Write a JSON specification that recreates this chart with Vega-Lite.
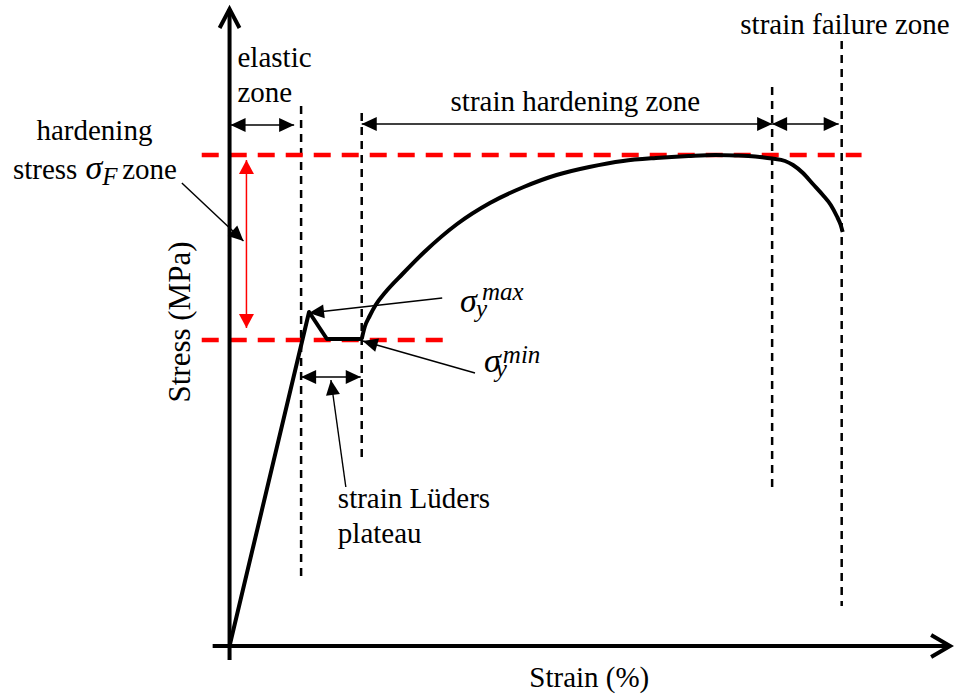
{
  "$schema": "https://vega.github.io/schema/vega-lite/v6.json",
  "width": 958,
  "height": 696,
  "padding": 0,
  "autosize": {"type": "fit", "contains": "padding"},
  "background": "white",
  "config": {"view": {"stroke": null}},
  "datasets": {
    "axes": [
      {"id": "y", "o": 0, "x": 0, "y": -14},
      {"id": "y", "o": 1, "x": 0, "y": 637},
      {"id": "x", "o": 0, "x": -17, "y": 0},
      {"id": "x", "o": 1, "x": 725, "y": 0},
      {"id": "ya", "o": 0, "x": -10, "y": 618},
      {"id": "ya", "o": 1, "x": 0, "y": 637},
      {"id": "ya", "o": 2, "x": 10, "y": 618},
      {"id": "xa", "o": 0, "x": 706, "y": 11},
      {"id": "xa", "o": 1, "x": 725, "y": 0},
      {"id": "xa", "o": 2, "x": 706, "y": -11}
    ],
    "vdash": [
      {"x": 72, "y": 540, "y2": 64},
      {"x": 133, "y": 533, "y2": 188},
      {"x": 546, "y": 559, "y2": 158},
      {"x": 616, "y": 605, "y2": 40}
    ],
    "rdash": [
      {"x": -28, "x2": 636, "y": 491},
      {"x": -28, "x2": 217, "y": 306}
    ],
    "curve1": [
      {"o": 0, "x": 0, "y": 0},
      {"o": 1, "x": 80, "y": 334},
      {"o": 2, "x": 98, "y": 307},
      {"o": 3, "x": 133, "y": 307}
    ],
    "curve2": [
      {"x": 133, "y": 307},
      {"x": 136, "y": 319},
      {"x": 141, "y": 330},
      {"x": 147, "y": 341},
      {"x": 157, "y": 354},
      {"x": 174, "y": 372},
      {"x": 196, "y": 394},
      {"x": 229, "y": 422},
      {"x": 262, "y": 443},
      {"x": 296, "y": 459},
      {"x": 329, "y": 471},
      {"x": 362, "y": 479},
      {"x": 396, "y": 485},
      {"x": 429, "y": 488},
      {"x": 462, "y": 490},
      {"x": 489, "y": 491},
      {"x": 509, "y": 490.5},
      {"x": 529, "y": 489.5},
      {"x": 546, "y": 487.5},
      {"x": 559, "y": 485},
      {"x": 567, "y": 481},
      {"x": 577, "y": 473},
      {"x": 587, "y": 462},
      {"x": 597, "y": 451},
      {"x": 605, "y": 441},
      {"x": 611, "y": 430},
      {"x": 615, "y": 421},
      {"x": 617, "y": 414}
    ],
    "thin": [
      {"x": 1, "x2": 65, "y": 521, "y2": 521},
      {"x": 133, "x2": 546, "y": 522, "y2": 522},
      {"x": 546, "x2": 613, "y": 522, "y2": 522},
      {"x": 72, "x2": 132, "y": 269, "y2": 269},
      {"x": -48, "x2": 14, "y": 463, "y2": 405},
      {"x": 214, "x2": 80, "y": 348, "y2": 333},
      {"x": 247, "x2": 134, "y": 273, "y2": 305},
      {"x": 117, "x2": 102, "y": 159, "y2": 266}
    ],
    "redthin": [
      {"x": 17, "x2": 17, "y": 486, "y2": 318}
    ],
    "heads": [
      {"x": 1, "y": 521, "d": "L"},
      {"x": 65, "y": 521, "d": "R"},
      {"x": 133, "y": 522, "d": "L"},
      {"x": 546, "y": 522, "d": "R"},
      {"x": 546, "y": 522, "d": "L"},
      {"x": 613, "y": 522, "d": "R"},
      {"x": 72, "y": 269, "d": "L"},
      {"x": 132, "y": 269, "d": "R"},
      {"x": 14, "y": 405, "d": "a1"},
      {"x": 80, "y": 333, "d": "a2"},
      {"x": 134, "y": 305, "d": "a3"},
      {"x": 102, "y": 266, "d": "a4"}
    ],
    "redheads": [
      {"x": 17, "y": 486, "d": "RU"},
      {"x": 17, "y": 318, "d": "RD"}
    ],
    "textL": [
      {"x": 8, "y": 579, "t": "elastic"},
      {"x": 8, "y": 544, "t": "zone"},
      {"x": 514, "y": 612, "t": "strain failure zone"},
      {"x": 109, "y": 138, "t": "strain Lüders"},
      {"x": 109, "y": 103, "t": "plateau"},
      {"x": -218, "y": 467, "t": "stress"},
      {"x": -108, "y": 467, "t": "zone"}
    ],
    "textC": [
      {"x": -136, "y": 506, "t": "hardening"},
      {"x": 348, "y": 535, "t": "strain hardening zone"},
      {"x": 362, "y": -41, "t": "Strain (%)"}
    ],
    "ylab": [
      {"x": -40, "y": 324, "t": "Stress (MPa)"}
    ],
    "sig": [
      {"x": -145, "y": 467, "t": "σ"},
      {"x": 232, "y": 334, "t": "σ"},
      {"x": 256, "y": 274, "t": "σ"}
    ],
    "subsup": [
      {"x": -128, "y": 461, "t": "F"},
      {"x": 248, "y": 329, "t": "y"},
      {"x": 254, "y": 346, "t": "max"},
      {"x": 268, "y": 269, "t": "y"},
      {"x": 275, "y": 283, "t": "min"}
    ]
  },
  "encoding": {
    "x": {"field": "x", "type": "quantitative", "scale": {"domain": [-231, 727], "nice": false, "zero": false}, "axis": null},
    "y": {"field": "y", "type": "quantitative", "scale": {"domain": [-50, 646], "nice": false, "zero": false}, "axis": null}
  },
  "layer": [
    {
      "data": {"name": "vdash"},
      "mark": {"type": "rule", "color": "black", "strokeWidth": 2.5, "strokeDash": [8, 6]},
      "encoding": {"y2": {"field": "y2"}}
    },
    {
      "data": {"name": "rdash"},
      "mark": {"type": "rule", "color": "#ff0000", "strokeWidth": 4.5, "strokeDash": [17, 11]},
      "encoding": {"x2": {"field": "x2"}}
    },
    {
      "data": {"name": "axes"},
      "mark": {"type": "line", "color": "black", "strokeWidth": 4, "strokeJoin": "miter", "strokeCap": "butt"},
      "encoding": {"detail": {"field": "id"}, "order": {"field": "o"}}
    },
    {
      "data": {"name": "curve1"},
      "mark": {"type": "line", "color": "black", "strokeWidth": 4, "strokeJoin": "round"},
      "encoding": {"order": {"field": "o"}}
    },
    {
      "data": {"name": "curve2"},
      "mark": {"type": "line", "color": "black", "strokeWidth": 4, "interpolate": "monotone"},
      "encoding": {}
    },
    {
      "data": {"name": "thin"},
      "mark": {"type": "rule", "color": "black", "strokeWidth": 1.4},
      "encoding": {"x2": {"field": "x2"}, "y2": {"field": "y2"}}
    },
    {
      "data": {"name": "redthin"},
      "mark": {"type": "rule", "color": "#ff0000", "strokeWidth": 1.5},
      "encoding": {"x2": {"field": "x2"}, "y2": {"field": "y2"}}
    },
    {
      "data": {"name": "heads"},
      "mark": {"type": "point", "filled": true, "size": 4, "opacity": 1, "color": "black", "strokeWidth": 0},
      "encoding": {
        "shape": {
          "field": "d",
          "type": "nominal",
          "legend": null,
          "scale": {
            "domain": ["L", "R", "RU", "RD", "a1", "a2", "a3", "a4"],
            "range": [
              "M0,0L15,-7L15,7Z",
              "M0,0L-15,-7L-15,7Z",
              "M0,0L-7.5,14L7.5,14Z",
              "M0,0L-7.5,-14L7.5,-14Z",
              "M0,0L-15.7,-5.1L-6.2,-15.4Z",
              "M0,0L14.1,-8.6L15.7,5.3Z",
              "M0,0L16.3,-2.6L12.5,10.8Z",
              "M0,0L9,13.9L-4.9,15.8Z"
            ]
          }
        }
      }
    },
    {
      "data": {"name": "redheads"},
      "mark": {"type": "point", "filled": true, "size": 4, "opacity": 1, "color": "#ff0000", "strokeWidth": 0},
      "encoding": {
        "shape": {
          "field": "d",
          "type": "nominal",
          "legend": null,
          "scale": {
            "domain": ["L", "R", "RU", "RD", "a1", "a2", "a3", "a4"],
            "range": [
              "M0,0L15,-7L15,7Z",
              "M0,0L-15,-7L-15,7Z",
              "M0,0L-7.5,14L7.5,14Z",
              "M0,0L-7.5,-14L7.5,-14Z",
              "M0,0L-15.7,-5.1L-6.2,-15.4Z",
              "M0,0L14.1,-8.6L15.7,5.3Z",
              "M0,0L16.3,-2.6L12.5,10.8Z",
              "M0,0L9,13.9L-4.9,15.8Z"
            ]
          }
        }
      }
    },
    {
      "data": {"name": "textL"},
      "mark": {"type": "text", "font": "Liberation Serif", "fontSize": 29, "align": "left", "baseline": "alphabetic", "color": "black"},
      "encoding": {"text": {"field": "t"}}
    },
    {
      "data": {"name": "textC"},
      "mark": {"type": "text", "font": "Liberation Serif", "fontSize": 29, "align": "center", "baseline": "alphabetic", "color": "black"},
      "encoding": {"text": {"field": "t"}}
    },
    {
      "data": {"name": "ylab"},
      "mark": {"type": "text", "font": "Liberation Serif", "fontSize": 31, "align": "center", "baseline": "alphabetic", "angle": 270, "color": "black"},
      "encoding": {"text": {"field": "t"}}
    },
    {
      "data": {"name": "sig"},
      "mark": {"type": "text", "font": "Liberation Serif", "fontStyle": "italic", "fontSize": 34, "align": "left", "baseline": "alphabetic", "color": "black"},
      "encoding": {"text": {"field": "t"}}
    },
    {
      "data": {"name": "subsup"},
      "mark": {"type": "text", "font": "Liberation Serif", "fontStyle": "italic", "fontSize": 25, "align": "left", "baseline": "alphabetic", "color": "black"},
      "encoding": {"text": {"field": "t"}}
    }
  ]
}
